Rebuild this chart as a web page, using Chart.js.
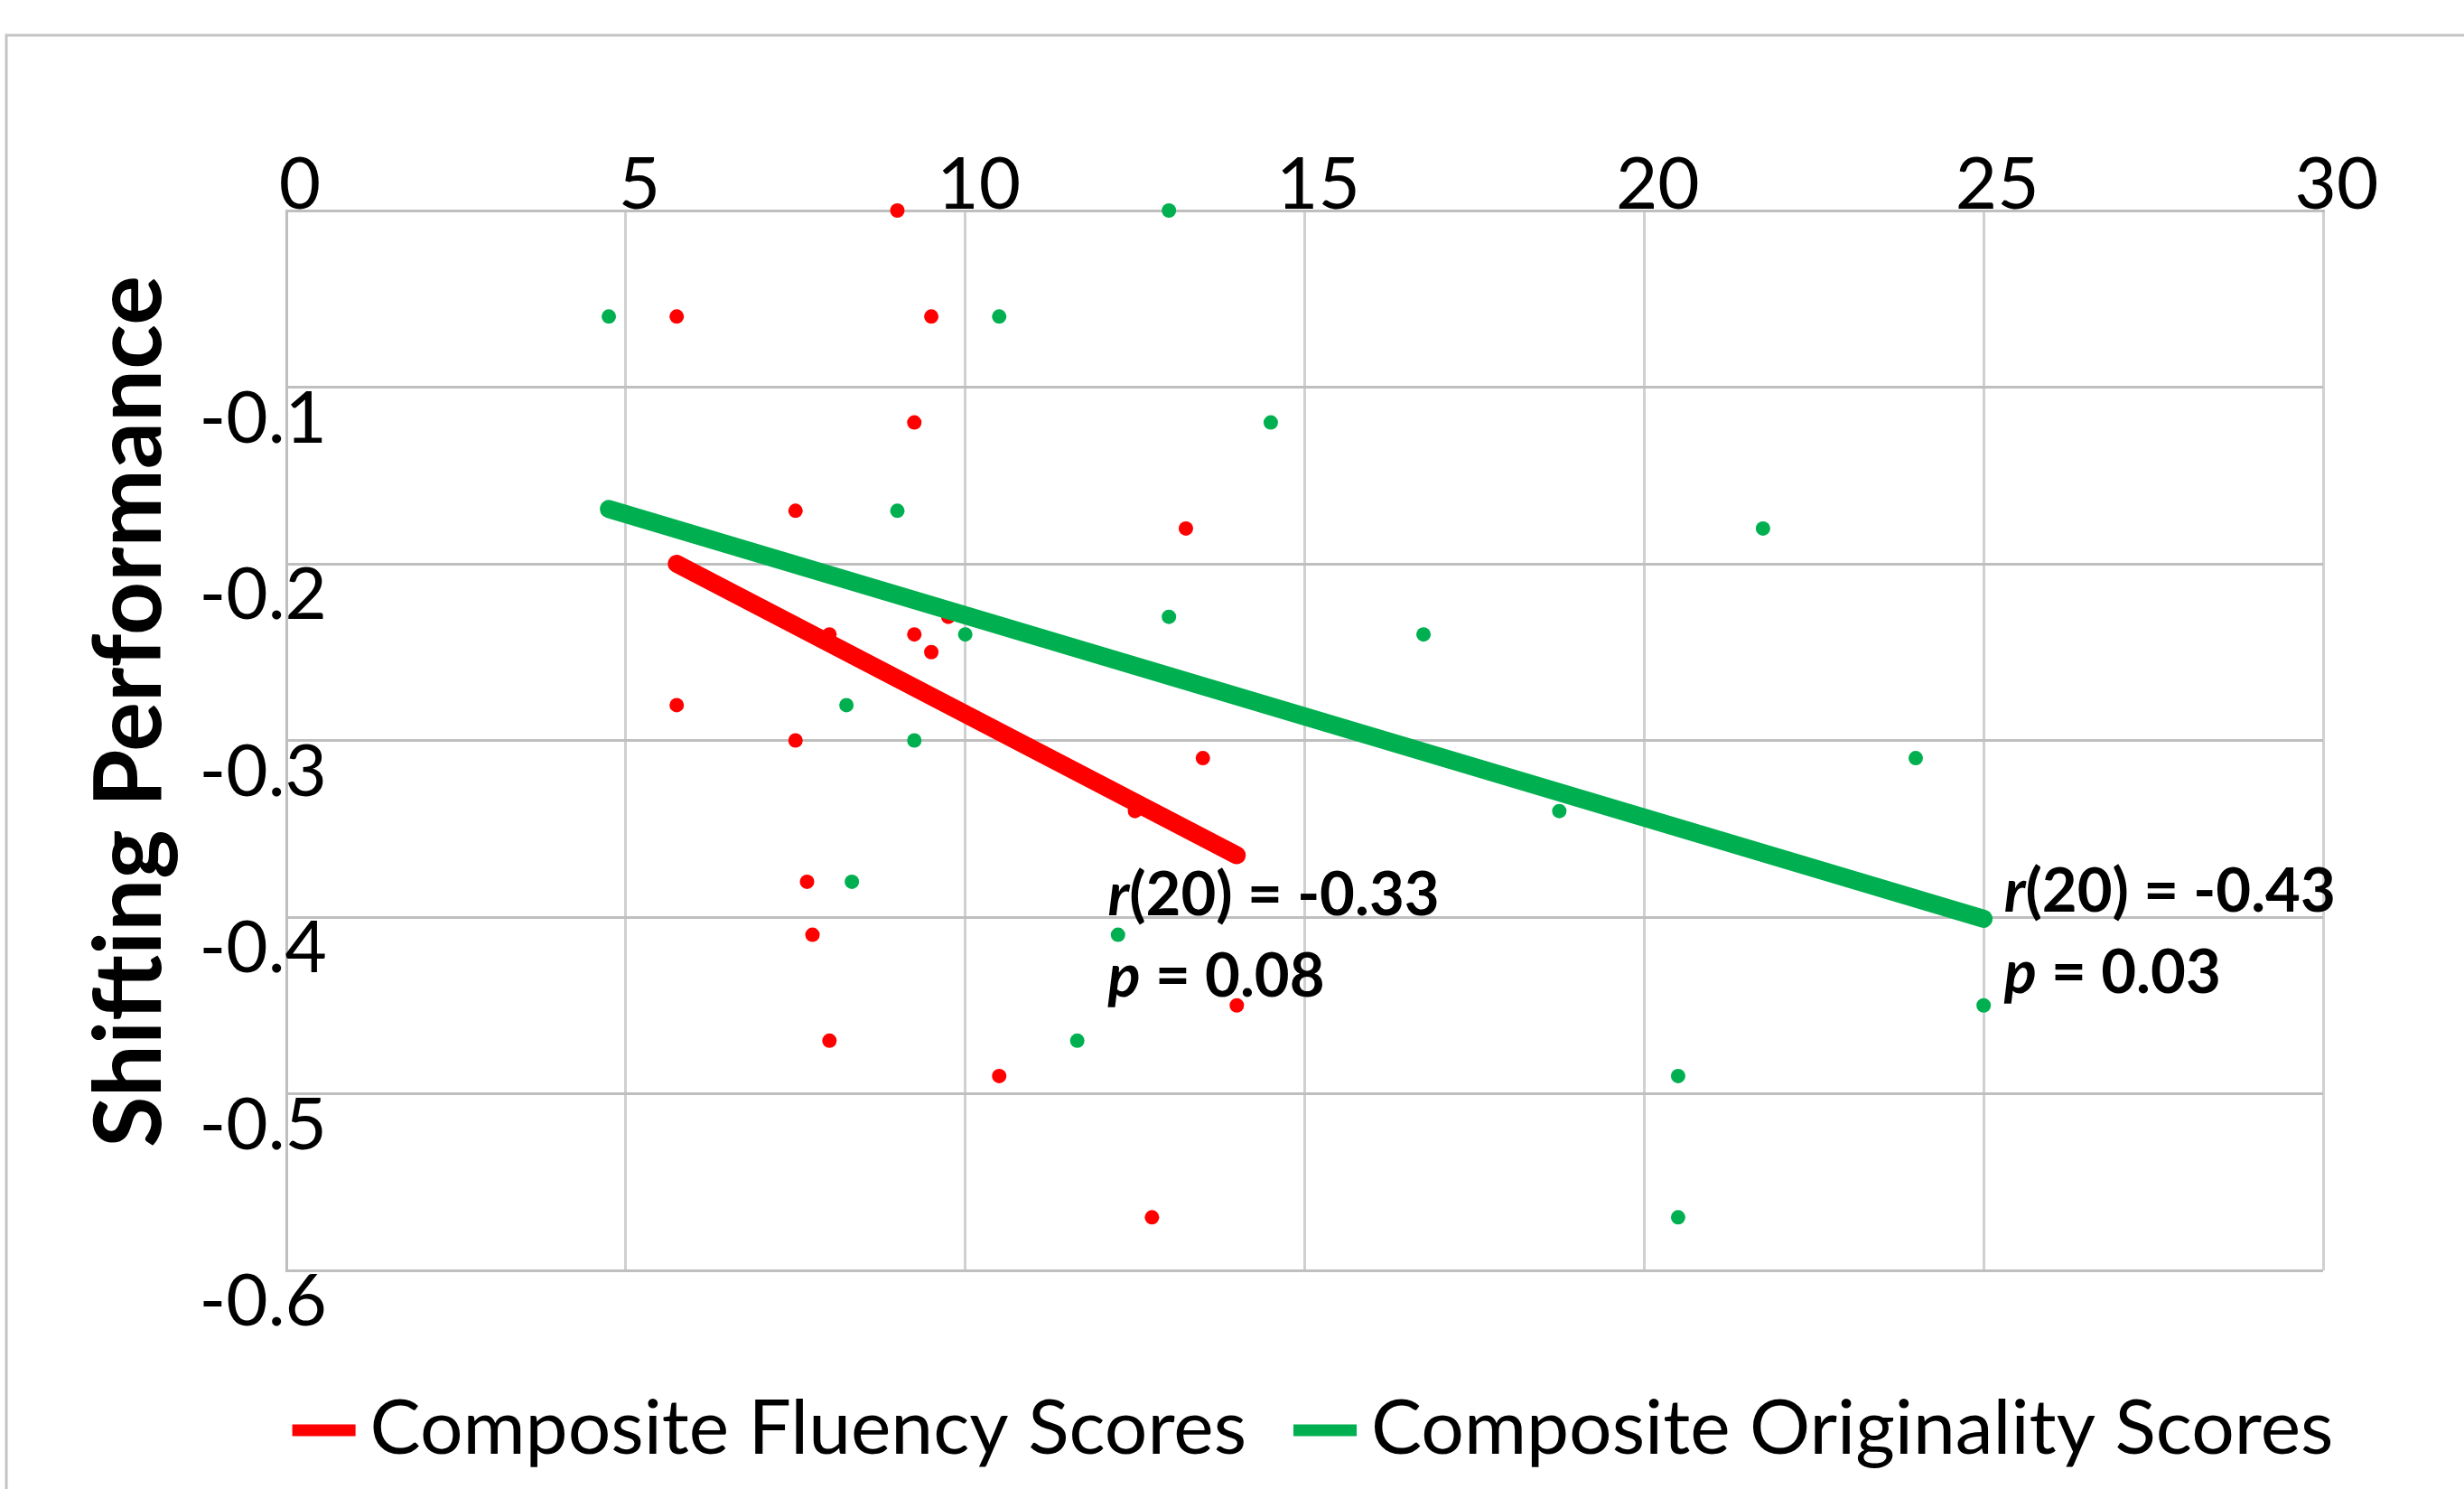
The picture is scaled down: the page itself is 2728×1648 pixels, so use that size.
<!DOCTYPE html>
<html>
<head>
<meta charset="utf-8">
<title>Shifting Performance</title>
<script src="https://cdn.jsdelivr.net/npm/chart.js@4.4.1/dist/chart.umd.min.js"></script>
<style>
  html, body { margin: 0; padding: 0; background: #fff; }
  #wrap { width: 2728px; height: 1648px; }
</style>
</head>
<body>
<div id="wrap"><canvas id="scatterChart"></canvas></div>
<script>
// Composite fluency scores (x) against shifting performance (y)
const fluencyX = [9, 5.75, 9.5, 9.25, 7.5, 13.25, 9.75, 8, 9.25, 9.5, 5.75, 7.5, 13.5, 12.5, 7.67, 7.75, 14, 8, 10.5, 12.75];
const fluencyY = [0, -0.06, -0.06, -0.12, -0.17, -0.18, -0.23, -0.24, -0.24, -0.25, -0.28, -0.30, -0.31, -0.34, -0.38, -0.41, -0.45, -0.47, -0.49, -0.57];

// Composite originality scores (x) against shifting performance (y)
const originalityX = [13, 4.75, 10.5, 14.5, 9, 21.75, 13, 10, 16.75, 8.25, 9.25, 24, 18.75, 8.33, 12.25, 25, 11.65, 20.5, 20.5];
const originalityY = [0, -0.06, -0.06, -0.12, -0.17, -0.18, -0.23, -0.24, -0.24, -0.28, -0.30, -0.31, -0.34, -0.38, -0.41, -0.45, -0.47, -0.49, -0.57];

// Linear trend lines, start and end points
const fluencyTrendX = [5.75, 14];
const fluencyTrendY = [-0.2, -0.365];
const originalityTrendX = [4.75, 25];
const originalityTrendY = [-0.169, -0.401];

// Series names and correlation stats
const seriesNames = ['Composite Fluency Scores', 'Composite Originality Scores'];
const seriesColors = ['#ff0000', '#00b050'];
const rValues = ['-0.33', '-0.43'];
const pValues = ['0.08', '0.03'];

// Axis ticks
const xTicks = [0, 5, 10, 15, 20, 25, 30];
const yTicks = [-0.1, -0.2, -0.3, -0.4, -0.5, -0.6];
const yTitle = 'Shifting Performance';

const toPoints = (xs, ys) => xs.map((x, i) => ({ x: x, y: ys[i] }));

// where the r / p notes sit (data coordinates of the first baseline)
const statAnchors = [
    { x: 12.1, y: -0.399 },
    { x: 25.3, y: -0.397 }
];

const chartText = {
    id: 'chartText',
    beforeDraw(chart) {
        const ctx = chart.ctx;
        ctx.save();
        ctx.fillStyle = '#ffffff';
        ctx.fillRect(0, 0, chart.width, chart.height);
        // outer frame (top and left edges)
        ctx.strokeStyle = '#c4c4c4';
        ctx.lineWidth = 3;
        ctx.beginPath();
        ctx.moveTo(7, chart.height);
        ctx.lineTo(7, 39);
        ctx.lineTo(chart.width, 39);
        ctx.stroke();
        ctx.restore();
    },
    afterDraw(chart) {
        const ctx = chart.ctx;
        const area = chart.chartArea;
        const xs = chart.scales.x;
        const ys = chart.scales.y;
        ctx.save();
        ctx.fillStyle = '#000';

        // x tick labels above the top axis
        ctx.font = '80px Lato';
        ctx.textAlign = 'center';
        ctx.textBaseline = 'alphabetic';
        xTicks.forEach(v => {
            ctx.fillText(String(v), xs.getPixelForValue(v) + 15, area.top - 2);
        });

        // y tick labels, sitting just under their grid lines
        ctx.textAlign = 'right';
        yTicks.forEach(v => {
            ctx.fillText(v.toFixed(1), area.left + 45, ys.getPixelForValue(v) + 61);
        });

        // y axis title
        ctx.save();
        ctx.translate(area.left - 172, (area.top + area.bottom) / 2 - 32);
        ctx.rotate(-Math.PI / 2);
        ctx.font = 'bold 103px Lato';
        ctx.textAlign = 'center';
        ctx.textBaseline = 'middle';
        ctx.fillText(yTitle, 0, 0);
        ctx.restore();

        // r and p notes next to the trend lines
        ctx.textAlign = 'left';
        statAnchors.forEach((a, i) => {
            const px = xs.getPixelForValue(a.x);
            const py = ys.getPixelForValue(a.y);
            const rows = [['r', '(20) = ' + rValues[i]], ['p', ' = ' + pValues[i]]];
            rows.forEach((row, j) => {
                const y = py + j * 90;
                ctx.font = 'italic bold 67px Lato';
                ctx.fillText(row[0], px, y);
                const w = ctx.measureText(row[0]).width;
                ctx.font = 'bold 67px Lato';
                ctx.fillText(row[1], px + w, y);
            });
        });

        // legend under the plot
        ctx.font = '84px Lato';
        const lineLen = 70;
        const gap = 16;
        const itemGap = 52;
        const widths = seriesNames.map(n => ctx.measureText(n).width);
        const total = widths.reduce((s, w) => s + lineLen + gap + w, 0) + itemGap;
        let lx = (area.left + area.right) / 2 + 9 - total / 2;
        const ly = area.bottom + 177;
        seriesNames.forEach((name, i) => {
            ctx.fillStyle = seriesColors[i];
            ctx.fillRect(lx, ly - 6.5, lineLen, 13);
            ctx.fillStyle = '#000';
            ctx.textBaseline = 'alphabetic';
            ctx.fillText(name, lx + lineLen + gap, ly + 26);
            lx += lineLen + gap + widths[i] + itemGap;
        });
        ctx.restore();
    }
};

document.addEventListener('DOMContentLoaded', () => {
    const ctx = document.getElementById('scatterChart').getContext('2d');
    new Chart(ctx, {
        type: 'scatter',
        data: {
            datasets: [
                {
                    label: seriesNames[0] + ' trend',
                    data: toPoints(fluencyTrendX, fluencyTrendY),
                    showLine: true,
                    borderColor: seriesColors[0],
                    borderWidth: 20,
                    borderCapStyle: 'round',
                    pointRadius: 0,
                    order: 0
                },
                {
                    label: seriesNames[1] + ' trend',
                    data: toPoints(originalityTrendX, originalityTrendY),
                    showLine: true,
                    borderColor: seriesColors[1],
                    borderWidth: 20,
                    borderCapStyle: 'round',
                    pointRadius: 0,
                    order: 0
                },
                {
                    label: seriesNames[0],
                    data: toPoints(fluencyX, fluencyY),
                    backgroundColor: seriesColors[0],
                    borderWidth: 0,
                    pointRadius: 8,
                    clip: false,
                    order: 1
                },
                {
                    label: seriesNames[1],
                    data: toPoints(originalityX, originalityY),
                    backgroundColor: seriesColors[1],
                    borderWidth: 0,
                    pointRadius: 8,
                    clip: false,
                    order: 2
                }
            ]
        },
        options: {
            responsive: true,
            maintainAspectRatio: false,
            animation: false,
            layout: {
                padding: { left: 317, top: 233, right: 156, bottom: 242 }
            },
            plugins: {
                legend: { display: false },
                tooltip: { enabled: false }
            },
            scales: {
                x: {
                    type: 'linear',
                    position: 'top',
                    min: 0,
                    max: 30,
                    ticks: { stepSize: 5, display: false },
                    grid: { color: '#d0d0d0', lineWidth: 3, drawTicks: false },
                    border: { color: '#bfbfbf', width: 3 }
                },
                y: {
                    type: 'linear',
                    min: -0.6,
                    max: 0,
                    ticks: { stepSize: 0.1, display: false },
                    grid: { color: '#bfbfbf', lineWidth: 3, drawTicks: false },
                    border: { color: '#bfbfbf', width: 3 }
                }
            }
        },
        plugins: [chartText]
    });
});
</script>
</body>
</html>
